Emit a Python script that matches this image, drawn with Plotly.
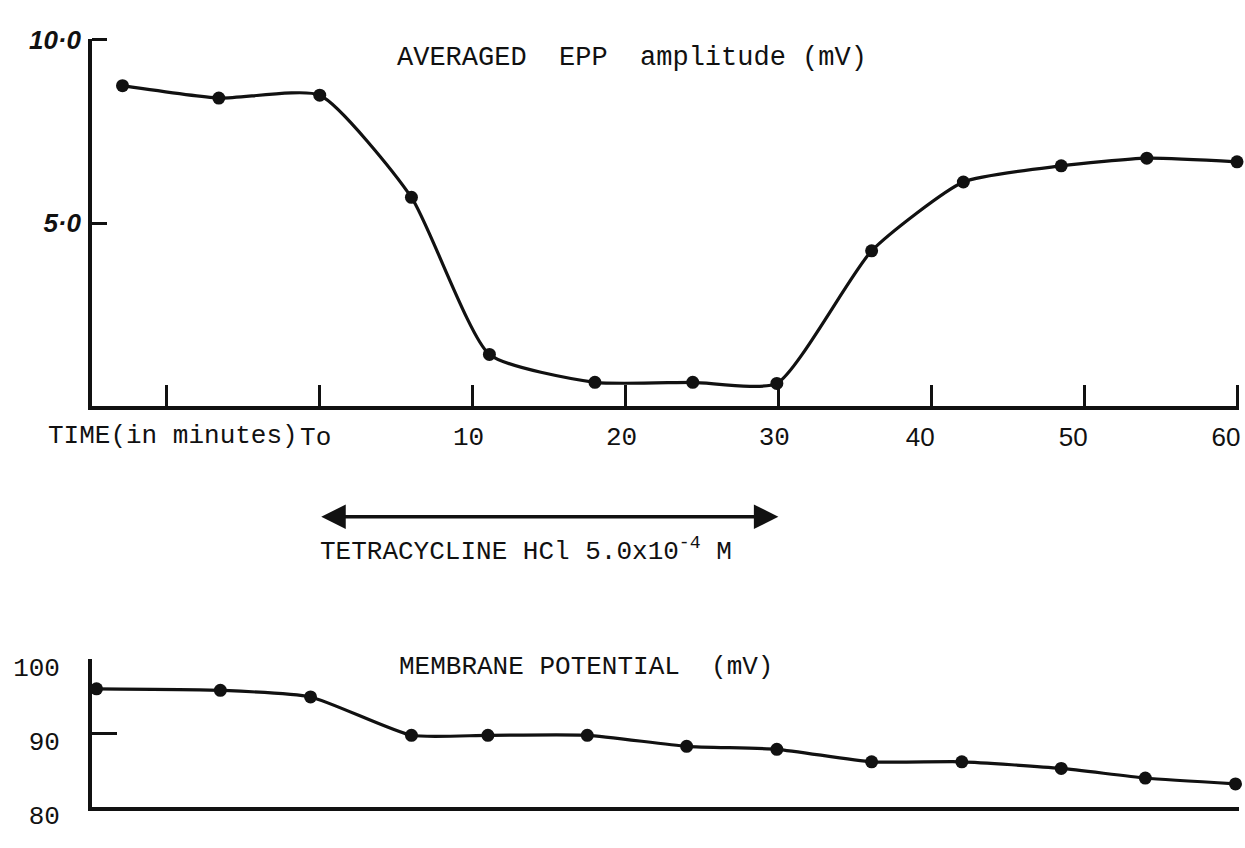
import plotly.graph_objects as go

# Averaged end-plate potential amplitude (mV) against time (min); To = drug applied
epp_time = [-12.9, -6.6, 0.0, 6.0, 11.1, 18.0, 24.4, 29.9, 36.1, 42.1, 48.5, 54.1, 60.0]
epp_amp = [8.75, 8.41, 8.49, 5.70, 1.41, 0.65, 0.65, 0.62, 4.24, 6.12, 6.56, 6.77, 6.67]

# Membrane potential (mV) at the same sampling times
mp_time = [-14.6, -6.5, -0.6, 6.0, 11.0, 17.5, 24.0, 29.9, 36.1, 42.0, 48.5, 54.0, 59.9]
mp_value = [96.0, 95.8, 94.9, 89.7, 89.7, 89.7, 88.2, 87.8, 86.1, 86.1, 85.2, 83.9, 83.1]

# Axis ticks and labels
time_ticks = [-10, 0, 10, 20, 30, 40, 50, 60]
time_tick_text = ["", "To", "10", "20", "30", "", "", ""]
late_ticks = [40, 50, 60]
late_tick_text = ["40", "50", "60"]
epp_ticks = [5, 10]
epp_tick_text = ["5·0", "10·0"]
mp_ticks = [80, 90, 100]
mp_tick_text = ["80", "90", "100"]

# Period of tetracycline perfusion (min)
drug_start, drug_end = 0, 30

INK = "#111111"
TYPE = "Liberation Mono"
HAND = "Liberation Sans"

W, H = 1245, 848
x_dom = [92 / W, 1240 / W]
x_rng = [-14.9, 60.13]
top_dom = [(H - 411) / H, (H - 26) / H]
bot_dom = [(H - 831) / H, (H - 676) / H]

fig = go.Figure()

fig.add_trace(go.Scatter(
    x=epp_time, y=epp_amp, mode="lines+markers",
    line=dict(color=INK, width=3.2, shape="spline", smoothing=0.55),
    marker=dict(color=INK, size=13),
    cliponaxis=False, xaxis="x", yaxis="y", showlegend=False,
))
fig.add_trace(go.Scatter(
    x=mp_time, y=mp_value, mode="lines+markers",
    line=dict(color=INK, width=3.2, shape="spline", smoothing=0.55),
    marker=dict(color=INK, size=13),
    cliponaxis=False, xaxis="x2", yaxis="y2", showlegend=False,
))
# empty trace so the overlay axis carrying the late tick labels is drawn
fig.add_trace(go.Scatter(x=[], y=[], xaxis="x3", yaxis="y", showlegend=False))

axis_common = dict(showgrid=False, zeroline=False, linecolor=INK, linewidth=3.5,
                   tickcolor=INK, tickwidth=3)

fig.update_layout(
    width=W, height=H,
    margin=dict(l=0, r=0, t=0, b=0),
    paper_bgcolor="white", plot_bgcolor="white",
    xaxis=dict(domain=x_dom, range=x_rng, anchor="y", showline=True, tickangle=0,
               ticks="inside", ticklen=21, tickvals=time_ticks, ticktext=time_tick_text,
               tickfont=dict(family=TYPE, size=26, color=INK), ticklabelstandoff=4,
               ticklabelshift=-4, **axis_common),
    xaxis3=dict(domain=x_dom, range=x_rng, anchor="y", overlaying="x", showline=False,
                ticks="", tickvals=late_ticks, ticktext=late_tick_text, tickangle=0,
                tickfont=dict(family=HAND, size=26, color=INK), ticklabelstandoff=13,
                ticklabelshift=-11, showgrid=False, zeroline=False),
    yaxis=dict(domain=top_dom, range=[0, 10.03], anchor="x", showline=True,
               ticks="inside", ticklen=15, tickvals=epp_ticks, ticktext=epp_tick_text,
               tickfont=dict(family=HAND, size=26, color=INK, style="italic", weight="bold"),
               ticklabelstandoff=2, **axis_common),
    xaxis2=dict(domain=x_dom, range=x_rng, anchor="y2", showline=True,
                ticks="", showticklabels=False, **axis_common),
    yaxis2=dict(domain=bot_dom, range=[80, 100.06], anchor="x2", showline=True,
                ticks="inside", ticklen=25, tickvals=mp_ticks, ticktext=mp_tick_text,
                tickfont=dict(family=TYPE, size=26, color=INK), ticklabeloverflow="allow",
                ticklabelstandoff=23, ticklabelshift=8, **axis_common),
)

fig.add_annotation(text="AVERAGED  EPP  amplitude (mV)", xref="paper", yref="paper",
                   x=633 / W, y=(H - 46) / H, xanchor="center", yanchor="middle",
                   showarrow=False, font=dict(family=TYPE, size=27, color=INK))
fig.add_annotation(text="MEMBRANE POTENTIAL  (mV)", xref="paper", yref="paper",
                   x=586 / W, y=(H - 684) / H, xanchor="center", yanchor="middle",
                   showarrow=False, font=dict(family=TYPE, size=26, color=INK))
fig.add_annotation(text="TIME(in minutes)", xref="x", yref="y", x=-1.3, y=0,
                   xanchor="right", yanchor="middle", yshift=-30, showarrow=False,
                   font=dict(family=TYPE, size=26, color=INK))

# double-headed arrow spanning the perfusion period
fig.add_annotation(x=drug_end, y=(H - 527) / H, xref="x", yref="paper",
                   ax=drug_start, ay=0, axref="x", ayref="pixel",
                   text="", showarrow=True, arrowside="end+start",
                   arrowhead=2, arrowsize=1.4, arrowwidth=3.5, arrowcolor=INK)
fig.add_annotation(text="TETRACYCLINE HCl 5.0x10<sup>-4</sup> M", xref="x", yref="paper",
                   x=drug_start - 0.1, y=(H - 562) / H, xanchor="left", yanchor="middle",
                   showarrow=False, font=dict(family=TYPE, size=26, color=INK))

fig.write_html("out.html")
